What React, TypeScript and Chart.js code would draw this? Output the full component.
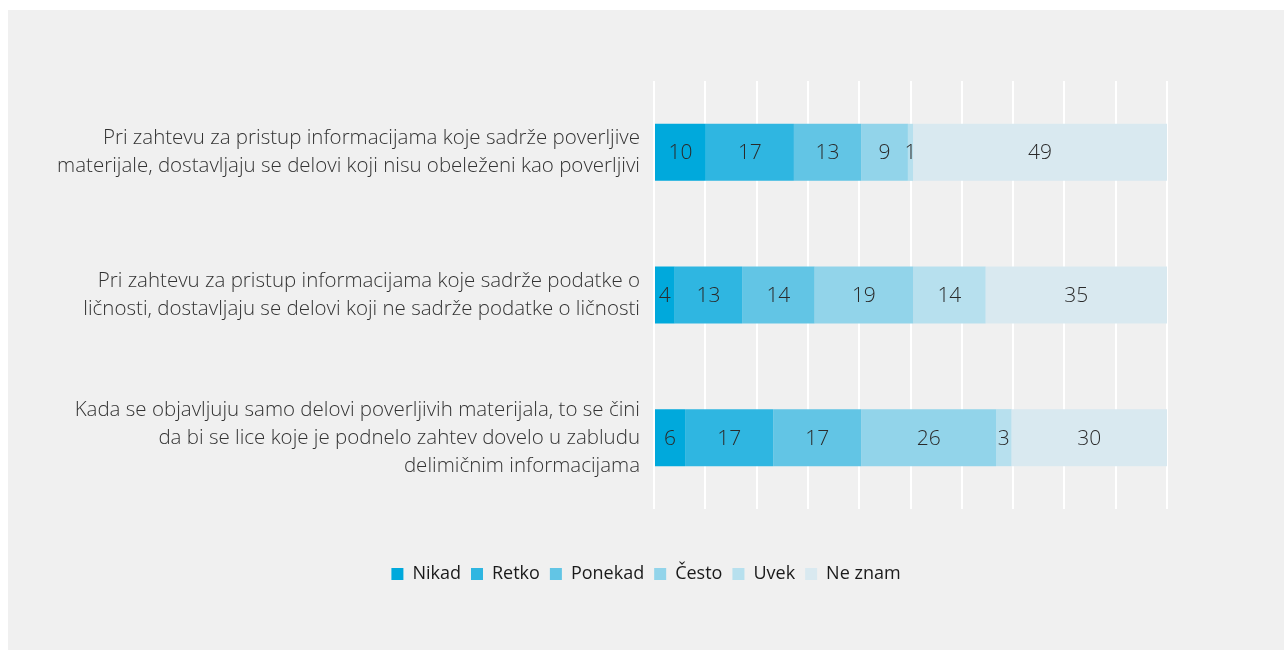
import React, { useEffect, useRef } from "react";
import { Chart, registerables } from "chart.js";

Chart.register(...registerables);

const categories: string[][] = [
  [
    "Pri zahtevu za pristup informacijama koje sadrže poverljive",
    "materijale, dostavljaju se delovi koji nisu obeleženi kao poverljivi",
  ],
  [
    "Pri zahtevu za pristup informacijama koje sadrže podatke o",
    "ličnosti, dostavljaju se delovi koji ne sadrže podatke o ličnosti",
  ],
  [
    "Kada se objavljuju samo delovi poverljivih materijala, to se čini",
    "da bi se lice koje je podnelo zahtev dovelo u zabludu",
    "delimičnim informacijama",
  ],
];

const seriesNames = ["Nikad", "Retko", "Ponekad", "Često", "Uvek", "Ne znam"];
const nikad = [10, 4, 6];
const retko = [17, 13, 17];
const ponekad = [13, 14, 17];
const cesto = [9, 19, 26];
const uvek = [1, 14, 3];
const neZnam = [49, 35, 30];
const seriesColors = ["#00a9dc", "#2fb6e1", "#62c5e5", "#92d4ea", "#b7e0ee", "#d9e9f0"];
const xTicks = [0, 10, 20, 30, 40, 50, 60, 70, 80, 90, 100];

const FONT = "'Open Sans', 'Noto Sans', sans-serif";

export default function App() {
  const ref = useRef<HTMLCanvasElement | null>(null);

  useEffect(() => {
    if (!ref.current) return;
    const series = [nikad, retko, ponekad, cesto, uvek, neZnam];
    const totals = categories.map((_, i) => series.reduce((s, arr) => s + arr[i], 0));

    const labelPlugin = {
      id: "segLabels",
      afterLayout(chart: any) {
        const lg = chart.legend;
        if (lg) {
          lg.left = 0;
          lg.right = chart.width;
          lg.width = chart.width;
          lg.top += 1;
          lg.bottom += 1;
        }
      },
      afterDatasetsDraw(chart: any) {
        const ctx = chart.ctx;
        ctx.save();
        ctx.font = `300 21px ${FONT}`;
        ctx.fillStyle = "#2a2a2a";
        ctx.textAlign = "center";
        ctx.textBaseline = "middle";
        chart.data.datasets.forEach((ds: any, di: number) => {
          const meta = chart.getDatasetMeta(di);
          meta.data.forEach((el: any, i: number) => {
            const raw = ds.rawValues[i];
            const cx = (el.x + el.base) / 2;
            ctx.fillText(String(raw), cx, el.y + 1);
          });
        });
        ctx.restore();
      },
    };

    const chart = new Chart(ref.current, {
      type: "bar",
      data: {
        labels: categories,
        datasets: series.map((arr, si) => ({
          label: seriesNames[si],
          data: arr.map((v, i) => (v / totals[i]) * 100),
          rawValues: arr,
          backgroundColor: seriesColors[si],
          borderWidth: 0,
          barPercentage: 0.4,
          categoryPercentage: 1,
        })) as any,
      },
      options: {
        indexAxis: "y",
        animation: false,
        responsive: false,
        maintainAspectRatio: false,
        layout: { padding: { top: 71, right: 117, bottom: 58, left: 0 } },
        scales: {
          x: {
            stacked: true,
            min: 0,
            max: 100,
            afterBuildTicks: (scale: any) => {
              scale.ticks = xTicks.map((v) => ({ value: v }));
            },
            ticks: { display: false },
            grid: { color: "#ffffff", lineWidth: 2, drawTicks: false },
            border: { display: false },
            afterFit: (scale: any) => {
              scale.height = 45;
            },
          },
          y: {
            stacked: true,
            grid: { display: false, drawTicks: false },
            border: { display: false },
            ticks: {
              padding: 14,
              color: "#333333",
              font: { family: FONT, size: 20.5, weight: "300", lineHeight: "28px" },
            },
            afterFit: (scale: any) => {
              scale.width = 646;
            },
          },
        },
        plugins: {
          legend: {
            position: "bottom",
            labels: {
              boxWidth: 12,
              boxHeight: 12,
              padding: 10,
              color: "#1a1a1a",
              font: { family: FONT, size: 18 },
            },
          },
          tooltip: { enabled: false },
        },
      } as any,
      plugins: [labelPlugin],
    });
    return () => chart.destroy();
  }, []);

  return (
    <div
      style={{
        position: "absolute",
        left: 8,
        top: 10,
        width: 1276,
        height: 640,
        background: "#f0f0f0",
      }}
    >
      <canvas ref={ref} width={1276} height={640} style={{ display: "block" }} />
    </div>
  );
}
